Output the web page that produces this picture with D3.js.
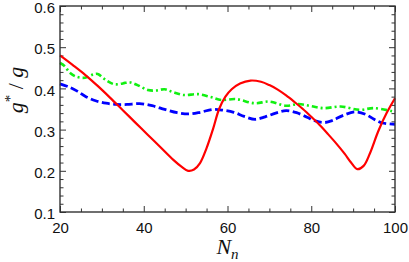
<!DOCTYPE html>
<html>
<head>
<meta charset="utf-8">
<script src="https://cdn.jsdelivr.net/npm/d3@7"></script>
<style>
  body { margin: 0; background: #fff; }
  svg { display: block; }
</style>
</head>
<body>
<div id="chart"></div>
<script>
// values
const redX   = [20, 23, 26, 29, 32, 35, 38, 41, 44, 47, 49, 50.6, 52, 53.4, 55, 56.5, 58, 59.5, 61, 63, 65.5, 68, 70, 72, 74, 76, 78, 80, 82, 84, 86, 88, 89.5, 91, 92.5, 94, 96, 98, 100];
const redY   = [0.480, 0.457, 0.433, 0.406, 0.377, 0.347, 0.317, 0.287, 0.257, 0.227, 0.210, 0.200, 0.203, 0.218, 0.255, 0.300, 0.350, 0.380, 0.398, 0.412, 0.419, 0.416, 0.408, 0.397, 0.383, 0.367, 0.350, 0.331, 0.311, 0.289, 0.266, 0.241, 0.220, 0.204, 0.212, 0.242, 0.296, 0.340, 0.376];

const greenX = [20, 21, 22.5, 24, 26, 28, 29, 31, 33, 35, 36.5, 38.5, 41, 43, 45, 47, 49.5, 53, 56, 58.5, 62, 66.5, 70, 74, 77, 80, 83, 87, 91.5, 95, 100];
const greenY = [0.462, 0.455, 0.437, 0.428, 0.426, 0.434, 0.435, 0.420, 0.410, 0.412, 0.415, 0.408, 0.396, 0.395, 0.398, 0.391, 0.384, 0.386, 0.379, 0.372, 0.374, 0.364, 0.368, 0.358, 0.362, 0.357, 0.352, 0.356, 0.348, 0.352, 0.343];

const blueX  = [20, 22, 24, 26, 28.5, 31, 33.5, 36, 39, 42, 45, 48, 50.8, 53.5, 56.5, 59, 61.5, 64, 66.6, 69, 71.5, 74, 76.5, 79, 81, 83, 85, 87.5, 90.5, 93, 95, 97, 100];
const blueY  = [0.411, 0.404, 0.394, 0.381, 0.370, 0.364, 0.361, 0.361, 0.363, 0.358, 0.349, 0.341, 0.338, 0.342, 0.349, 0.347, 0.342, 0.332, 0.325, 0.331, 0.340, 0.346, 0.341, 0.330, 0.321, 0.317, 0.322, 0.334, 0.343, 0.337, 0.325, 0.316, 0.313];

const xTicks = [20, 40, 60, 80, 100];
const yTicks = [0.1, 0.2, 0.3, 0.4, 0.5, 0.6];

const width = 409, height = 262;
const margin = { left: 60, right: 14, top: 6, bottom: 50 };
const innerW = width - margin.left - margin.right;
const innerH = height - margin.top - margin.bottom;

const svg = d3.select('#chart').append('svg')
    .attr('width', width)
    .attr('height', height);

const g = svg.append('g').attr('transform', 'translate(' + margin.left + ',' + margin.top + ')');

const x = d3.scaleLinear().domain([20, 100]).range([0, innerW]);
const y = d3.scaleLinear().domain([0.1, 0.6]).range([innerH, 0]);

const xMinor = d3.range(20, 100.1, 5).filter(v => v % 20 !== 0);
const yMinor = d3.range(0.1, 0.6001, 0.02).filter(v => Math.abs(v * 10 - Math.round(v * 10)) > 1e-6);

const axisColor = '#333';
const font = '"Liberation Sans", Arial, sans-serif';

function styleAxis(sel) {
    sel.select('.domain').remove();
    sel.selectAll('line').attr('stroke', axisColor).attr('stroke-width', 1);
    sel.selectAll('text').attr('font-family', font).attr('font-size', 15).attr('fill', '#111');
}

// bottom / top
g.append('g').attr('transform', 'translate(0,' + innerH + ')')
    .call(d3.axisBottom(x).tickValues(xTicks).tickSize(-6).tickPadding(10).tickFormat(d3.format('d')))
    .call(styleAxis);
g.append('g').attr('transform', 'translate(0,' + innerH + ')')
    .call(d3.axisBottom(x).tickValues(xMinor).tickSize(-3.5).tickFormat(''))
    .call(styleAxis);
g.append('g')
    .call(d3.axisTop(x).tickValues(xTicks).tickSize(-6).tickFormat(''))
    .call(styleAxis);
g.append('g')
    .call(d3.axisTop(x).tickValues(xMinor).tickSize(-3.5).tickFormat(''))
    .call(styleAxis);

// left / right
g.append('g')
    .call(d3.axisLeft(y).tickValues(yTicks).tickSize(-6).tickPadding(5).tickFormat(d3.format('.1f')))
    .call(styleAxis)
    .call(a => a.selectAll('text').attr('dy', '0.45em'));
g.append('g')
    .call(d3.axisLeft(y).tickValues(yMinor).tickSize(-3.5).tickFormat(''))
    .call(styleAxis);
g.append('g').attr('transform', 'translate(' + innerW + ',0)')
    .call(d3.axisRight(y).tickValues(yTicks).tickSize(-6).tickFormat(''))
    .call(styleAxis);
g.append('g').attr('transform', 'translate(' + innerW + ',0)')
    .call(d3.axisRight(y).tickValues(yMinor).tickSize(-3.5).tickFormat(''))
    .call(styleAxis);

// curves
const line = d3.line()
    .x(d => x(d[0]))
    .y(d => y(d[1]))
    .curve(d3.curveCatmullRom.alpha(0.5));

const plot = g.append('g');
plot.append('path')
    .attr('d', line(greenX.map((v, i) => [v, greenY[i]])))
    .attr('fill', 'none').attr('stroke', '#11f011').attr('stroke-width', 2.6)
    .attr('stroke-dasharray', '6,3,2,3');
plot.append('path')
    .attr('d', line(blueX.map((v, i) => [v, blueY[i]])))
    .attr('fill', 'none').attr('stroke', '#0000ff').attr('stroke-width', 2.8)
    .attr('stroke-dasharray', '8,3.5');
plot.append('path')
    .attr('d', line(redX.map((v, i) => [v, redY[i]])))
    .attr('fill', 'none').attr('stroke', '#ff0000').attr('stroke-width', 2.2);

// frame
g.append('rect')
    .attr('width', innerW).attr('height', innerH)
    .attr('fill', 'none').attr('stroke', axisColor).attr('stroke-width', 1.4);

// axis labels
const serif = '"Liberation Serif", "Times New Roman", serif';
const yl = svg.append('text')
    .attr('transform', 'translate(23,90) rotate(-90)')
    .attr('text-anchor', 'middle')
    .attr('font-family', serif).attr('font-style', 'italic').attr('font-size', 22).attr('fill', '#111');
yl.append('tspan').text('g');
yl.append('tspan').attr('dy', -8).attr('font-size', 15).attr('font-style', 'normal').text('*');
yl.append('tspan').attr('dy', 8).attr('font-style', 'normal').text(' / ');
yl.append('tspan').text('g');

const xl = svg.append('text')
    .attr('x', margin.left + innerW / 2)
    .attr('y', 254)
    .attr('text-anchor', 'middle')
    .attr('font-family', serif).attr('font-style', 'italic').attr('font-size', 22).attr('fill', '#111');
xl.append('tspan').text('N');
xl.append('tspan').attr('dy', 5).attr('font-size', 15).text('n');
</script>
</body>
</html>
